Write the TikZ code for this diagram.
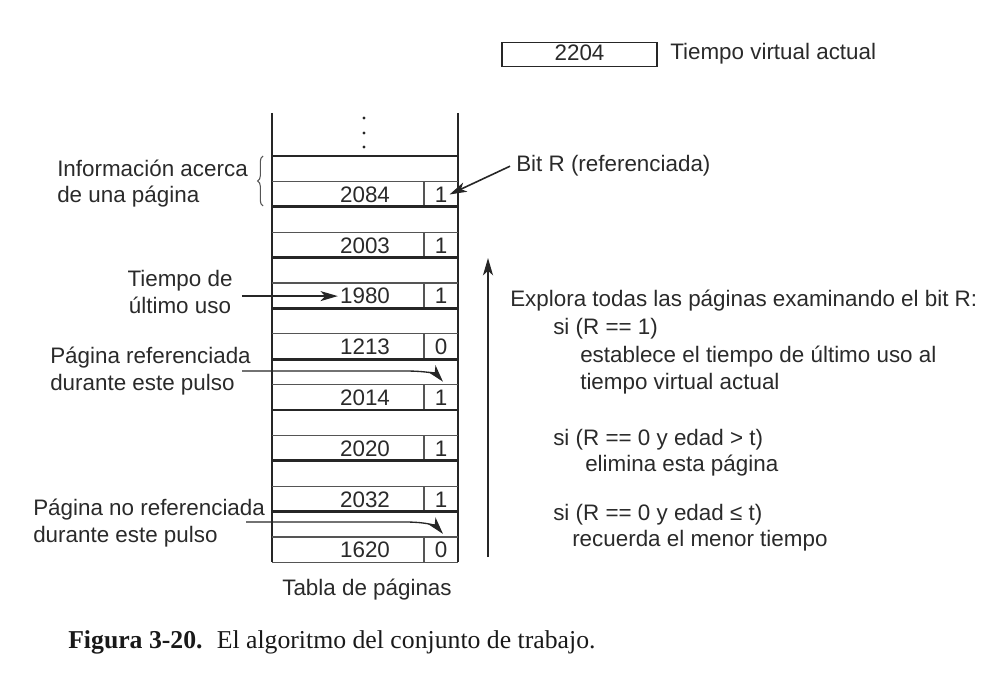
\documentclass[tikz,border=0pt]{standalone}
\usepackage{fontspec}
\setmainfont{Liberation Serif}
\setsansfont{Liberation Sans}
\usetikzlibrary{arrows.meta,calc,decorations.pathreplacing}
\definecolor{txt}{HTML}{2A2A2A}
\definecolor{ln}{HTML}{262626}
\definecolor{thin}{HTML}{555555}
\begin{document}
\begin{tikzpicture}[x=0.75pt,y=-0.75pt,
  lbl/.style={font=\sffamily\fontsize{16.8}{20}\selectfont, text=txt, inner sep=0pt},
  cell/.style={font=\sffamily\fontsize{16.8}{20}\selectfont, text=txt, inner sep=1.5pt},
  thickln/.style={line width=2pt, draw=ln},
  thinln/.style={line width=1pt, draw=thin},
  wall/.style={line width=1.5pt, draw=ln},
  arr/.style={line width=1.2pt, draw=ln, -{Stealth[length=13pt,width=7.5pt,inset=3.5pt]}},
  capt/.style={font=\rmfamily\fontsize{19.3}{23}\selectfont, text=black!90, inner sep=0pt}]
\useasboundingbox (0,0) rectangle (987,673);

% current virtual time
\node[cell, draw=ln, line width=1.1pt, minimum width=116pt, minimum height=17pt, text depth=3pt] (vt) at (579.5,54.5) {2204};
\node[lbl, anchor=base west] (vtl) at (670,60) {Tiempo virtual actual};

% table walls
\draw[wall] (272,113) -- (272,562.4);
\draw[wall] (458,113) -- (458,562.4);
% dots
\foreach \yy in {118,133,147} \fill[ln] (364,\yy) circle (1.6);
% rows
\foreach \k in {0,...,7} {
  \pgfmathsetmacro\yt{156+50.8*\k}
  \draw[thickln] (272,\yt) -- (458,\yt);
  \draw[thinln] (272,\yt+25.4) -- (458,\yt+25.4);
  \draw[thinln] (424,\yt+25.4) -- (424,\yt+50.8);
}
\draw[thinln] (272,562.4) -- (458,562.4);
% cell contents
\foreach \v/\b [count=\k from 0] in {2084/1,2003/1,1980/1,1213/0,2014/1,2020/1,2032/1,1620/0} {
  \node[cell] (n\k) at (365,194.5+50.8*\k) {\v};
  \node[cell] (b\k) at (441,194.5+50.8*\k) {\b};
}
\node[lbl, anchor=base] (tabla) at (367,595) {Tabla de páginas};

% left labels
\node[lbl, anchor=base west, align=left] (info) at (57,203) {Información acerca\\de una página};
\draw[thinln, line width=0.8pt, decorate, decoration={brace, amplitude=4pt}] (263,206) -- (263,156);

\node[lbl, anchor=base, align=center] (tiempo) at (180,313) {Tiempo de\\último uso};
\draw[arr] (n2.west -| tiempo.east) ++(9,0) -- (n2.west);

\node[lbl, anchor=base west, align=left] (ref) at (50,390) {Página referenciada\\durante este pulso};
\coordinate (s1) at (242,371);
\coordinate (e1) at ($(b4.north)+(2,-6)$);
\draw[arr, line width=1pt] (s1) -- (405,371) .. controls (430,371) and ($(e1)+(-6,-7)$) .. (e1);

\node[lbl, anchor=base west, align=left] (noref) at (33,542) {Página no referenciada\\durante este pulso};
\coordinate (s2) at (246,522);
\coordinate (e2) at ($(b7.north)+(2,-6)$);
\draw[arr, line width=1pt] (s2) -- (405,522) .. controls (430,522) and ($(e2)+(-6,-7)$) .. (e2);

% R bit label
\node[lbl, anchor=base west] (bitR) at (516,172) {Bit R (referenciada)};
\draw[arr] ($(bitR.west)+(-6,0)$) -- (b0.east);

% scan arrow
\coordinate (scanlo) at (488,557);
\coordinate (scanhi) at (488,258);
\draw[arr, line width=1.6pt] (scanlo) -- (scanhi);

% algorithm text
\node[lbl, anchor=base west] (t1) at (510,306) {Explora todas las páginas examinando el bit R:};
\node[lbl, anchor=base west] (t2) at (553,334) {si (R == 1)};
\node[lbl, anchor=base west] (t3) at (580,362) {establece el tiempo de último uso al};
\node[lbl, anchor=base west] (t4) at (580,389) {tiempo virtual actual};
\node[lbl, anchor=base west] (t5) at (553,445) {si (R == 0 y edad > t)};
\node[lbl, anchor=base west] (t6) at (585,471) {elimina esta página};
\node[lbl, anchor=base west] (t7) at (553,520) {si (R == 0 y edad ≤ t)};
\node[lbl, anchor=base west] (t8) at (572,546) {recuerda el menor tiempo};

% caption
\node[capt, anchor=base west] (cap) at (68,648) {\textbf{Figura 3-20.}\hspace{0.55em}El algoritmo del conjunto de trabajo.};
\end{tikzpicture}
\end{document}
